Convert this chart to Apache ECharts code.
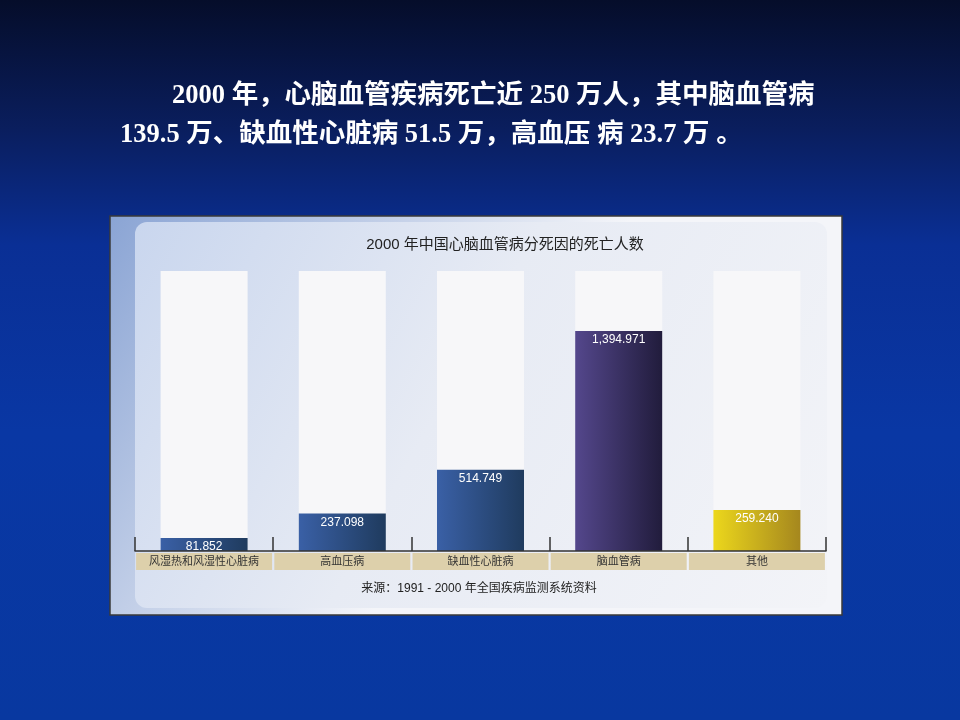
<!DOCTYPE html>
<html>
<head>
<meta charset="utf-8">
<title>2000年中国心脑血管病分死因的死亡人数</title>
<script src="https://cdn.jsdelivr.net/npm/echarts@6/dist/echarts.min.js"></script>
<style>
html, body { margin: 0; padding: 0; }
#main { width: 960px; height: 720px; }
</style>
</head>
<body>
<div id="main"></div>
<script>
// 数据
var categories = ['风湿热和风湿性心脏病', '高血压病', '缺血性心脏病', '脑血管病', '其他'];
var deaths = [81.852, 237.098, 514.749, 1394.971, 259.240];

var headLine1 = '2000 年，心脑血管疾病死亡近 250 万人，其中脑血管病';
var headLine2 = '139.5 万、缺血性心脏病 51.5 万，高血压 病 23.7 万 。';
var chartTitle = '2000 年中国心脑血管病分死因的死亡人数';
var sourceText = '来源：1991 - 2000 年全国疾病监测系统资料';

// 柱子渐变色（左亮右暗）
var barPalette = [
	['#3a60a6', '#1f3b5e'],
	['#3a60a6', '#1f3b5e'],
	['#3a60a6', '#1f3b5e'],
	['#54478c', '#211c3c'],
	['#ecd71c', '#a5871e']
];

var cjk = "'Liberation Serif', 'Noto Sans CJK SC', serif";
var sans = "'Liberation Sans Narrow', 'Liberation Sans', 'Noto Sans CJK SC', sans-serif";

function fmt(v){
	var parts = v.toFixed(3).split('.');
	parts[0] = parts[0].replace(/\B(?=(\d{3})+(?!\d))/g, ',');
	return parts.join('.');
}

var chart = {
	init: function(){
		var myChart = echarts.init(document.getElementById('main'));
		myChart.setOption(chart.getOption());
	},
	getOption: function(){
		var G = echarts.graphic.LinearGradient;
		var option = {
			backgroundColor: new G(0, 0, 0, 1, [
				{offset: 0, color: '#050d2a'},
				{offset: 0.18, color: '#0a1e5e'},
				{offset: 0.34, color: '#0a2f95'},
				{offset: 0.6, color: '#0937a4'},
				{offset: 1, color: '#0838a0'}
			]),
			animation: false,
			title: [
				{
					text: headLine1, left: 172, top: 83, padding: 0,
					textStyle: {color: '#fff', fontSize: 26.5, fontWeight: 'bold', fontFamily: cjk}
				},
				{
					text: headLine2, left: 120, top: 122, padding: 0,
					textStyle: {color: '#fff', fontSize: 26.5, fontWeight: 'bold', fontFamily: cjk}
				},
				{
					text: chartTitle, left: 505, top: 237, textAlign: 'center', padding: 0,
					textStyle: {color: '#222', fontSize: 15, fontWeight: 'normal', fontFamily: sans}
				},
				{
					text: sourceText, left: 479, top: 583, textAlign: 'center', padding: 0,
					textStyle: {color: '#222', fontSize: 12, fontWeight: 'normal', fontFamily: sans}
				}
			],
			graphic: [
				{
					type: 'rect', z: -10,
					shape: {x: 110, y: 216, width: 732, height: 399},
					style: {
						fill: new G(0, 0, 0.5, 0.6, [
							{offset: 0, color: '#8aa4d4'},
							{offset: 1, color: '#f4f5f9'}
						]),
						stroke: '#3a3a3a', lineWidth: 1.5
					}
				},
				{
					type: 'rect', z: -9,
					shape: {x: 135, y: 222, width: 692, height: 386, r: 12},
					style: {
						fill: new G(0, 0, 1, 1, [
							{offset: 0, color: '#c9d6ee'},
							{offset: 0.45, color: '#e7ebf4'},
							{offset: 1, color: '#f3f4f8'}
						])
					}
				}
			],
			grid: {left: 135, right: 134, top: 271, bottom: 169},
			xAxis: {
				type: 'category',
				data: categories,
				z: 10,
				axisLine: {show: true, lineStyle: {color: '#333', width: 1.5}},
				axisTick: {show: true, inside: true, length: 14, interval: 0, lineStyle: {color: '#333', width: 1.5}},
				axisLabel: {
					interval: 0, margin: 2,
					color: '#333', fontSize: 11, fontFamily: sans,
					backgroundColor: '#ddd0ab',
					width: 136, height: 17, lineHeight: 17, align: 'center'
				}
			},
			yAxis: {
				type: 'value', min: 0, max: 1775,
				show: false, splitLine: {show: false}
			},
			series: [
				{
					type: 'bar',
					barWidth: 87,
					showBackground: true,
					backgroundStyle: {color: '#f7f7f9'},
					data: deaths.map(function(v, i){
						return {
							value: v,
							itemStyle: {
								color: new G(0, 0, 1, 0, [
									{offset: 0, color: barPalette[i][0]},
									{offset: 1, color: barPalette[i][1]}
								])
							}
						};
					}),
					label: {
						show: true, position: 'insideTop', distance: 3,
						color: '#fff', fontSize: 12, fontFamily: sans,
						formatter: function(p){ return fmt(p.value); }
					}
				}
			]
		};
		return option;
	}
};

chart.init();
</script>
</body>
</html>
